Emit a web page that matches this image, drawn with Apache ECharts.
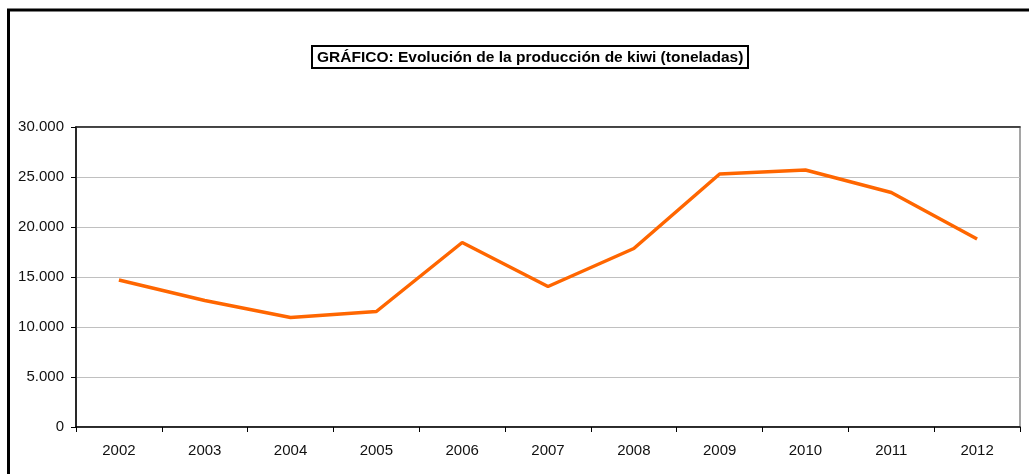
<!DOCTYPE html>
<html>
<head>
<meta charset="utf-8">
<script src="https://cdn.jsdelivr.net/npm/echarts@6/dist/echarts.min.js"></script>
<style>
html,body{margin:0;padding:0;background:#fff;}
#chart{width:1029px;height:474px;}
</style>
</head>
<body>
<div id="chart"></div>
<script>
const titleText = 'GRÁFICO: Evolución de la producción de kiwi (toneladas)';
const years = ['2002','2003','2004','2005','2006','2007','2008','2009','2010','2011','2012'];
const production = [14700, 12650, 10950, 11550, 18450, 14050, 17850, 25300, 25700, 23450, 18800];
const yTicks = [0, 5000, 10000, 15000, 20000, 25000, 30000];

const fmt = v => String(v).replace(/\B(?=(\d{3})+(?!\d))/g, '.');
const font = '"Liberation Sans", Arial, sans-serif';

const chart = echarts.init(document.getElementById('chart'), null, {renderer: 'canvas'});
chart.setOption({
  animation: false,
  backgroundColor: '#fff',
  title: {
    text: titleText,
    left: 312,
    top: 46,
    padding: [3, 5, 2, 5],
    borderColor: '#000',
    borderWidth: 2,
    textStyle: {fontFamily: font, fontSize: 15.5, fontWeight: 'bold', color: '#000', lineHeight: 17}
  },
  graphic: [{
    type: 'rect',
    shape: {x: 8.5, y: 10, width: 1040, height: 500},
    style: {fill: null, stroke: '#000', lineWidth: 3},
    silent: true
  }],
  grid: {
    left: 76, right: 9, top: 127, bottom: 47,
    show: true, borderColor: '#888', borderWidth: 1.5, backgroundColor: 'transparent'
  },
  xAxis: [{
    type: 'category',
    data: years,
    boundaryGap: true,
    axisLine: {lineStyle: {color: '#000', width: 1.5}},
    axisTick: {show: true, length: 5, alignWithLabel: false, lineStyle: {color: '#000'}},
    axisLabel: {fontFamily: font, fontSize: 15, color: '#111', margin: 16},
    splitLine: {show: false}
  }, {
    type: 'category',
    data: years,
    position: 'top',
    axisLine: {lineStyle: {color: '#222', width: 1.5}},
    axisTick: {show: false},
    axisLabel: {show: false}
  }],
  yAxis: {
    type: 'value',
    min: 0, max: 30000, interval: 5000,
    axisLine: {show: true, lineStyle: {color: '#000', width: 1.5}},
    axisTick: {show: true, length: 5, lineStyle: {color: '#000'}},
    axisLabel: {fontFamily: font, fontSize: 15, color: '#111', margin: 12, formatter: v => fmt(v)},
    splitLine: {show: true, lineStyle: {color: '#c0c0c0', width: 1}}
  },
  series: [{
    type: 'line',
    data: production,
    symbol: 'none',
    lineStyle: {color: '#FF6600', width: 3.5},
    itemStyle: {color: '#FF6600'},
    z: 5
  }]
});
</script>
</body>
</html>
